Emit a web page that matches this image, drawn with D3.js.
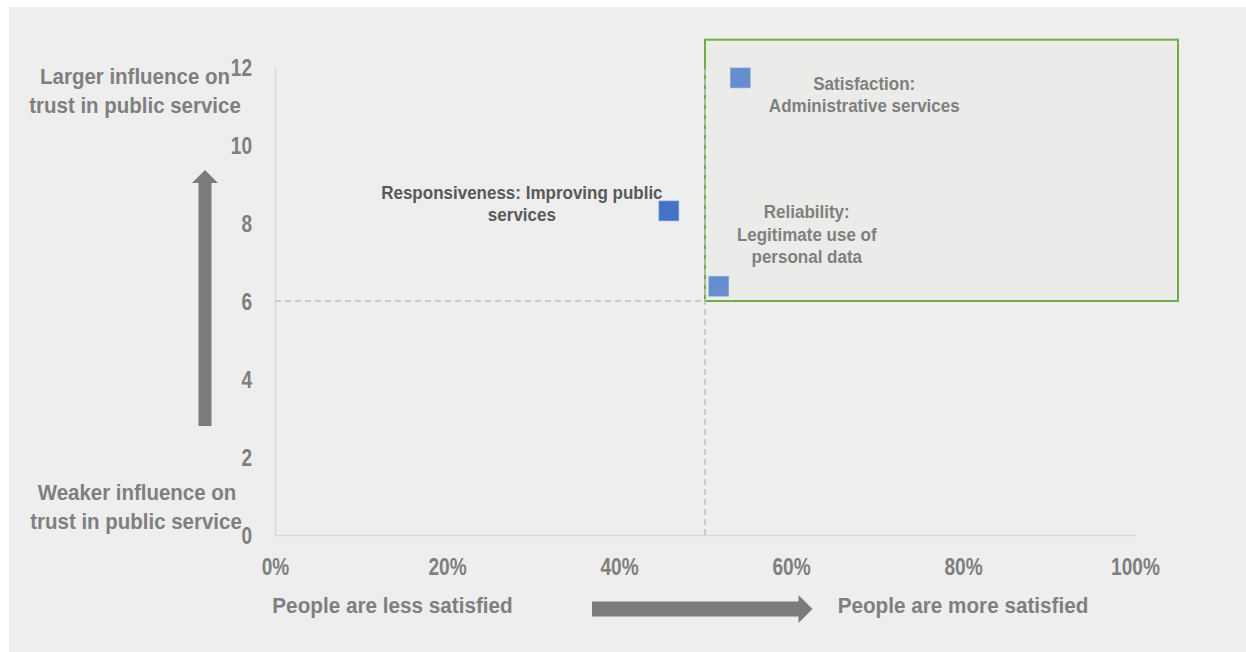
<!DOCTYPE html>
<html>
<head>
<meta charset="utf-8">
<script src="https://cdn.jsdelivr.net/npm/d3@7/dist/d3.min.js"></script>
<style>
  html, body { margin: 0; padding: 0; background: #ffffff; }
  svg { display: block; }
  text { font-family: "Liberation Sans", Arial, sans-serif; font-weight: bold; }
</style>
</head>
<body>
<svg id="chart" width="1246" height="652"></svg>
<script>
// Drivers of trust in public service
const drivers = [
  ["Responsiveness: Improving public", "services"],
  ["Satisfaction:", "Administrative services"],
  ["Reliability:", "Legitimate use of", "personal data"]
];
const satisfactionShare = [0.458, 0.541, 0.516];   // share of people satisfied
const trustInfluence = [8.31, 11.72, 6.38];         // influence on trust
const xTicks = [0, 0.2, 0.4, 0.6, 0.8, 1.0];
const yTicks = [0, 2, 4, 6, 8, 10, 12];
const thresholdX = 0.5;
const thresholdY = 6;
const quadrantX = [0.5, 1.05];
const quadrantY = [6, 12.7];

const svg = d3.select("#chart");
svg.append("rect").attr("x", 9).attr("y", 7).attr("width", 1237).attr("height", 645).attr("fill", "#eeeeee");

const x = d3.scaleLinear().domain([0, 1]).range([275, 1135]);
const y = d3.scaleLinear().domain([0, 12]).range([535, 67]);

// text helper with horizontal condensing
function label(g, px, py, str, size, sx, fill, anchor) {
  return g.append("text")
    .attr("transform", `translate(${px},${py}) scale(${sx},1)`)
    .attr("text-anchor", anchor || "middle")
    .attr("dy", "0.36em")
    .attr("font-size", size)
    .attr("fill", fill)
    .text(str);
}

// highlighted quadrant
svg.append("rect")
  .attr("x", x(quadrantX[0])).attr("y", y(quadrantY[1]))
  .attr("width", x(quadrantX[1]) - x(quadrantX[0]))
  .attr("height", y(quadrantY[0]) - y(quadrantY[1]))
  .attr("fill", "#ebece9")
  .attr("stroke", "#70ad47").attr("stroke-width", 2);

// axes
const xAxis = svg.append("g").attr("transform", `translate(0,${y(0)})`)
  .call(d3.axisBottom(x).tickValues(xTicks).tickFormat(d3.format(".0%")).tickSize(0).tickPadding(0));
const yAxis = svg.append("g").attr("transform", `translate(${x(0)},0)`)
  .call(d3.axisLeft(y).tickValues(yTicks).tickSize(0).tickPadding(0));
[xAxis, yAxis].forEach(a => {
  a.select(".domain").attr("stroke", "#d9d9d9").attr("stroke-width", 1.5);
  a.selectAll("text").attr("font-family", null).attr("font-size", 23).attr("fill", "#7f7f7f");
});
xAxis.selectAll(".tick text").attr("y", 0).attr("dy", "0.36em")
  .attr("transform", "translate(0,32) scale(0.83,1)");
yAxis.selectAll(".tick text").attr("x", 0).attr("dy", "0.36em")
  .attr("transform", "translate(-23,0) scale(0.83,1)");

// threshold lines
svg.append("line")
  .attr("x1", x(0)).attr("x2", x(thresholdX)).attr("y1", y(thresholdY)).attr("y2", y(thresholdY))
  .attr("stroke", "#bfbfbf").attr("stroke-width", 1.5).attr("stroke-dasharray", "6,4");
svg.append("line")
  .attr("x1", x(thresholdX)).attr("x2", x(thresholdX)).attr("y1", y(0)).attr("y2", y(12))
  .attr("stroke", "#bfbfbf").attr("stroke-width", 1.5).attr("stroke-dasharray", "6,4");

// points
const pointColors = ["#4472c4", "#678dcd", "#678dcd"];
svg.append("g").selectAll("rect")
  .data(satisfactionShare)
  .join("rect")
  .attr("x", (d) => x(d) - 10)
  .attr("y", (d, i) => y(trustInfluence[i]) - 10)
  .attr("width", 20).attr("height", 20)
  .attr("fill", (d, i) => pointColors[i])
  .attr("stroke", "#8fb0e0").attr("stroke-width", 0.6);

// point labels
const labelOffsets = [[-147, -19], [124, 5], [88, -75]];
const labelColors = ["#595959", "#7f7f7f", "#7f7f7f"];
const labelLayer = svg.append("g");
drivers.forEach((lines, i) => {
  const cx = x(satisfactionShare[i]) + labelOffsets[i][0];
  const cy = y(trustInfluence[i]) + labelOffsets[i][1];
  lines.forEach((ln, j) => label(labelLayer, cx, cy + j * 22.5, ln, 19, 0.895, labelColors[i]));
});

// axis titles
const titles = svg.append("g");
label(titles, 135, 76, "Larger influence on", 22.5, 0.91, "#7f7f7f");
label(titles, 135, 105, "trust in public service", 22.5, 0.91, "#7f7f7f");
label(titles, 137, 492, "Weaker influence on", 22.5, 0.91, "#7f7f7f");
label(titles, 136, 521, "trust in public service", 22.5, 0.91, "#7f7f7f");
label(titles, 392.5, 605, "People are less satisfied", 22.5, 0.92, "#7f7f7f");
label(titles, 963, 605, "People are more satisfied", 22.5, 0.92, "#7f7f7f");

// direction arrows
const arrowFill = "#7b7b7b";
svg.append("path")
  .attr("d", "M198.5,426 L198.5,183 L192,183 L205,170 L218,183 L211.5,183 L211.5,426 Z")
  .attr("fill", arrowFill);
svg.append("path")
  .attr("d", "M592,601.5 L798.5,601.5 L798.5,595 L812.5,609 L798.5,623 L798.5,616.5 L592,616.5 Z")
  .attr("fill", arrowFill);
</script>
</body>
</html>
